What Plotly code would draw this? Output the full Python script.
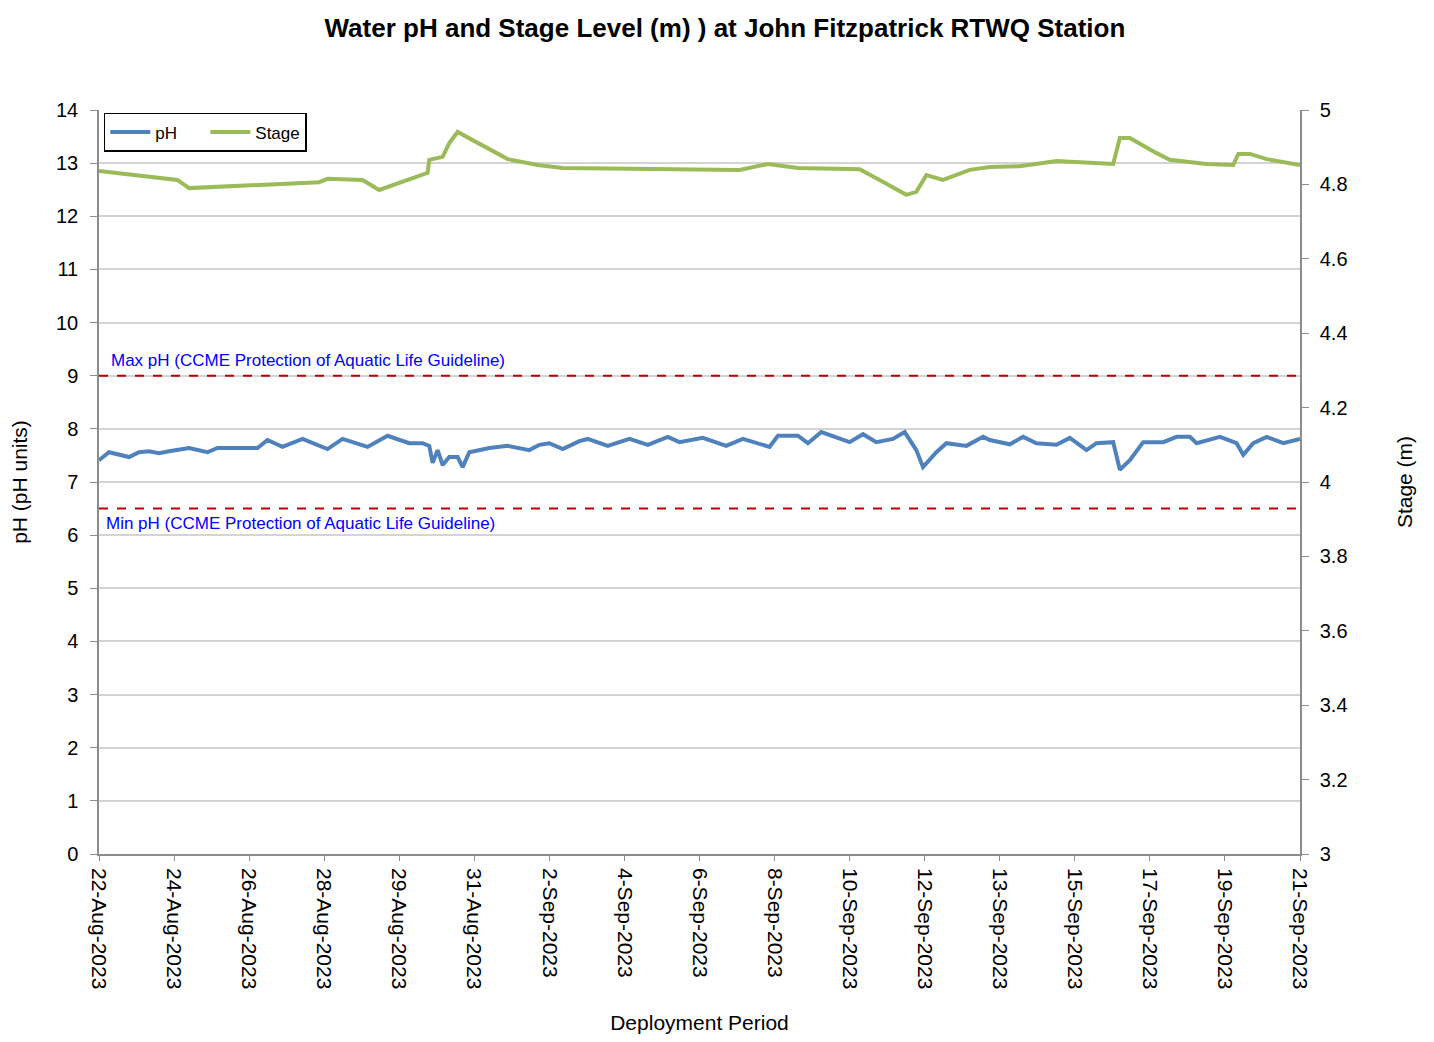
import pandas as pd
import plotly.graph_objects as go

# ---- data ----
ph_times = [
    "2023-08-22 00:00", "2023-08-22 06:00", "2023-08-22 18:00", "2023-08-23 00:00",
    "2023-08-23 06:00", "2023-08-23 12:00", "2023-08-23 18:00",
    "2023-08-24 06:00", "2023-08-24 17:00", "2023-08-24 23:00", "2023-08-25 23:00",
    "2023-08-26 05:00", "2023-08-26 14:00", "2023-08-27 02:00", "2023-08-27 17:00",
    "2023-08-28 02:00", "2023-08-28 17:00", "2023-08-29 05:00", "2023-08-29 18:00",
    "2023-08-30 02:00", "2023-08-30 06:00", "2023-08-30 08:00", "2023-08-30 11:00",
    "2023-08-30 14:00", "2023-08-30 18:00", "2023-08-30 23:00", "2023-08-31 02:00",
    "2023-08-31 06:00", "2023-08-31 18:00", "2023-09-01 05:00", "2023-09-01 18:00",
    "2023-09-02 00:00", "2023-09-02 06:00", "2023-09-02 14:00", "2023-09-03 00:00",
    "2023-09-03 05:00", "2023-09-03 17:00", "2023-09-04 06:00", "2023-09-04 17:00",
    "2023-09-05 05:00", "2023-09-05 12:00", "2023-09-06 02:00", "2023-09-06 16:00",
    "2023-09-07 02:00", "2023-09-07 18:00", "2023-09-07 23:00", "2023-09-08 11:00",
    "2023-09-08 17:00", "2023-09-09 01:00", "2023-09-09 12:00", "2023-09-09 18:00",
    "2023-09-10 02:00", "2023-09-10 10:00", "2023-09-10 20:00", "2023-09-11 03:00",
    "2023-09-11 10:00", "2023-09-11 14:00", "2023-09-11 22:00", "2023-09-12 04:00",
    "2023-09-12 16:00", "2023-09-13 02:00", "2023-09-13 06:00", "2023-09-13 18:00",
    "2023-09-14 02:00", "2023-09-14 10:00", "2023-09-14 22:00", "2023-09-15 06:00",
    "2023-09-15 16:00", "2023-09-15 22:00", "2023-09-16 08:00", "2023-09-16 12:00",
    "2023-09-16 18:00", "2023-09-17 02:00", "2023-09-17 14:00", "2023-09-17 22:00",
    "2023-09-18 06:00", "2023-09-18 10:00", "2023-09-19 00:00", "2023-09-19 10:00",
    "2023-09-19 14:00", "2023-09-19 20:00", "2023-09-20 04:00", "2023-09-20 14:00",
    "2023-09-21 00:00",
]
ph_values = [
    7.41, 7.56, 7.47, 7.56,
    7.58, 7.54, 7.58,
    7.64, 7.56, 7.64, 7.64,
    7.79, 7.66, 7.81, 7.62,
    7.81, 7.66, 7.87, 7.73,
    7.73, 7.68, 7.36, 7.60,
    7.32, 7.47, 7.47, 7.28,
    7.56, 7.64, 7.68, 7.60,
    7.70, 7.73, 7.62, 7.77,
    7.81, 7.68, 7.81, 7.70,
    7.85, 7.75, 7.83, 7.68,
    7.81, 7.66, 7.87, 7.87,
    7.73, 7.94, 7.81, 7.75,
    7.90, 7.75, 7.81, 7.94,
    7.60, 7.28, 7.56, 7.73,
    7.68, 7.85, 7.79, 7.71,
    7.85, 7.73, 7.70, 7.83,
    7.60, 7.73, 7.75, 7.23,
    7.41, 7.75, 7.75, 7.85,
    7.85, 7.73, 7.85, 7.73,
    7.51, 7.73, 7.85, 7.73,
    7.81,
]

stage_times = [
    "2023-08-22 00:00", "2023-08-22 23:00", "2023-08-23 23:00", "2023-08-24 06:00",
    "2023-08-24 23:00", "2023-08-25 23:00", "2023-08-27 12:00", "2023-08-27 17:00",
    "2023-08-28 14:00", "2023-08-29 00:00", "2023-08-29 18:00", "2023-08-30 05:00",
    "2023-08-30 06:00", "2023-08-30 14:00", "2023-08-30 18:00", "2023-08-30 23:00",
    "2023-08-31 08:00", "2023-09-01 05:00", "2023-09-01 23:00", "2023-09-02 14:00",
    "2023-09-07 00:00", "2023-09-07 17:00", "2023-09-08 11:00", "2023-09-10 00:00",
    "2023-09-10 12:00", "2023-09-11 04:00", "2023-09-11 10:00", "2023-09-11 16:00",
    "2023-09-12 02:00", "2023-09-12 18:00", "2023-09-13 06:00", "2023-09-14 00:00",
    "2023-09-14 22:00", "2023-09-15 16:00", "2023-09-16 08:00", "2023-09-16 12:00",
    "2023-09-16 18:00", "2023-09-17 10:00", "2023-09-17 18:00", "2023-09-18 16:00",
    "2023-09-19 08:00", "2023-09-19 11:00", "2023-09-19 18:00", "2023-09-20 04:00",
    "2023-09-21 00:00",
]
stage_values = [
    4.836, 4.825, 4.812, 4.790,
    4.793, 4.798, 4.806, 4.815,
    4.812, 4.785, 4.812, 4.831,
    4.866, 4.874, 4.911, 4.941,
    4.919, 4.868, 4.852, 4.844,
    4.839, 4.855, 4.844, 4.841,
    4.812, 4.772, 4.780, 4.825,
    4.812, 4.839, 4.847, 4.849,
    4.863, 4.860, 4.855, 4.925,
    4.925, 4.884, 4.866, 4.855,
    4.852, 4.882, 4.882, 4.868,
    4.852,
]

x_tick_labels = [
    "22-Aug-2023", "24-Aug-2023", "26-Aug-2023", "28-Aug-2023", "29-Aug-2023",
    "31-Aug-2023", "2-Sep-2023", "4-Sep-2023", "6-Sep-2023", "8-Sep-2023",
    "10-Sep-2023", "12-Sep-2023", "13-Sep-2023", "15-Sep-2023", "17-Sep-2023",
    "19-Sep-2023", "21-Sep-2023",
]
ph_max_guideline = 9.0
ph_min_guideline = 6.5

x_start = pd.Timestamp("2023-08-22 00:00")
x_end = pd.Timestamp("2023-09-21 00:00")
tick_positions = pd.date_range(x_start, x_end, periods=len(x_tick_labels))

FONT = "Liberation Sans, Arial, sans-serif"
AXIS_GREY = "#8C8C8C"

fig = go.Figure()
fig.add_trace(go.Scatter(
    x=pd.to_datetime(ph_times), y=ph_values, name="pH", mode="lines",
    line=dict(color="#4F81BD", width=4), yaxis="y",
))
fig.add_trace(go.Scatter(
    x=pd.to_datetime(stage_times), y=stage_values, name="Stage", mode="lines",
    line=dict(color="#9BBB59", width=4), yaxis="y2",
))

for lvl in (ph_max_guideline, ph_min_guideline):
    fig.add_shape(type="line", xref="paper", x0=0, x1=1, yref="y", y0=lvl, y1=lvl,
                  line=dict(color="#C00000", width=2, dash="dash"), layer="above")

fig.add_annotation(text="Max pH (CCME Protection of Aquatic Life Guideline)",
                   xref="paper", x=0.008, yref="y", y=ph_max_guideline,
                   xanchor="left", yanchor="bottom", yshift=4, showarrow=False,
                   font=dict(family=FONT, size=17, color="#0000FF"))
fig.add_annotation(text="Min pH (CCME Protection of Aquatic Life Guideline)",
                   xref="paper", x=0.004, yref="y", y=ph_min_guideline,
                   xanchor="left", yanchor="top", yshift=-3, showarrow=False,
                   font=dict(family=FONT, size=17, color="#0000FF"))

fig.update_layout(
    width=1418, height=1026,
    margin=dict(l=91, r=126, t=102, b=180, autoexpand=False),
    paper_bgcolor="white", plot_bgcolor="white",
    font=dict(family=FONT, size=20, color="black"),
    title=dict(text="<b>Water pH and Stage Level (m) ) at John Fitzpatrick RTWQ Station</b>",
               x=0.5056, xref="container", xanchor="center", y=0.9805, yanchor="middle",
               font=dict(family=FONT, size=26, color="black")),
    showlegend=True,
    legend=dict(orientation="h", x=0.004, y=0.996, xanchor="left", yanchor="top",
                bordercolor="black", borderwidth=1.5, bgcolor="white",
                font=dict(family=FONT, size=17), itemwidth=40,
                entrywidth=45, entrywidthmode="pixels"),
    xaxis=dict(
        type="date", range=[x_start, x_end], automargin=False,
        tickmode="array", tickvals=list(tick_positions), ticktext=x_tick_labels,
        tickangle=90, tickfont=dict(family=FONT, size=21),
        ticklabelstandoff=3,
        showgrid=False, showline=True, linecolor=AXIS_GREY, linewidth=1.5,
        ticks="outside", ticklen=5, tickcolor=AXIS_GREY,
        title=dict(text="Deployment Period", font=dict(family=FONT, size=21), standoff=34),
        zeroline=False,
    ),
    yaxis=dict(
        range=[0, 14], dtick=1, tick0=0, automargin=False,
        showgrid=True, gridcolor="#D4D4D4", gridwidth=1.5,
        showline=True, linecolor=AXIS_GREY, linewidth=1.5,
        ticks="outside", ticklen=7, tickcolor=AXIS_GREY,
        ticklabelstandoff=8,
        tickfont=dict(family=FONT, size=20),
        title=dict(text="pH (pH units)", font=dict(family=FONT, size=21), standoff=24),
        zeroline=False,
    ),
    yaxis2=dict(
        range=[3, 5], dtick=0.2, tick0=3, overlaying="y", side="right", automargin=False,
        showgrid=False, showline=True, linecolor=AXIS_GREY, linewidth=1.5,
        ticks="outside", ticklen=7, tickcolor=AXIS_GREY,
        ticklabelstandoff=7,
        tickfont=dict(family=FONT, size=20),
        title=dict(text="Stage (m)", font=dict(family=FONT, size=21), standoff=51),
        zeroline=False,
    ),
)

fig.write_html("out.html")
